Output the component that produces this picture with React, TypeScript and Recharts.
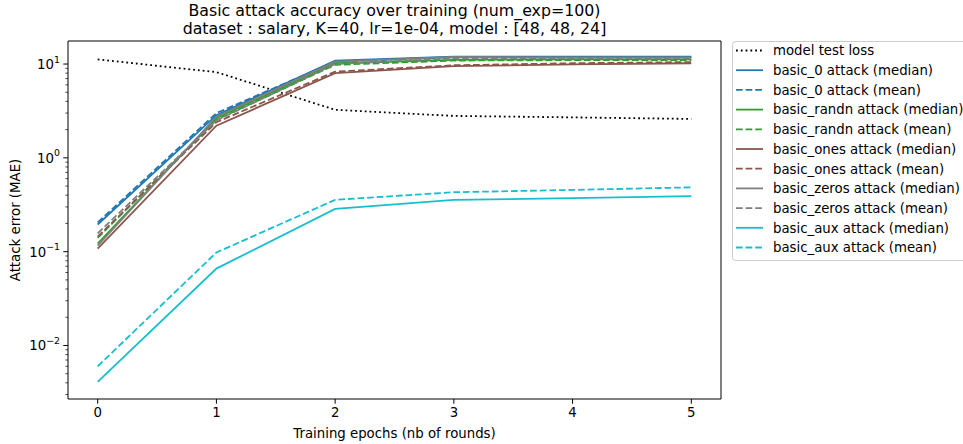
import { LineChart, Line, XAxis, YAxis, ReferenceArea } from 'recharts';

const epochs = [0, 1, 2, 3, 4, 5];
const modelTestLoss = [11.2, 8.2, 3.25, 2.8, 2.7, 2.6];
const basic0Median = [0.195, 2.85, 10.9, 12.0, 12.0, 12.0];
const basic0Mean = [0.205, 3.0, 10.6, 11.8, 11.8, 11.8];
const randnMedian = [0.122, 2.65, 10.2, 11.1, 11.2, 11.2];
const randnMean = [0.14, 2.55, 9.8, 10.9, 11.0, 11.0];
const onesMedian = [0.108, 2.2, 8.0, 9.5, 9.9, 10.2];
const onesMean = [0.145, 2.4, 8.3, 9.7, 10.2, 10.5];
const zerosMedian = [0.116, 2.75, 10.6, 11.9, 11.8, 11.8];
const zerosMean = [0.157, 2.5, 10.0, 11.5, 11.5, 11.5];
const auxMedian = [0.0041, 0.066, 0.286, 0.357, 0.372, 0.39];
const auxMean = [0.006, 0.098, 0.357, 0.43, 0.455, 0.485];

const majorTicks = [0.01, 0.1, 1, 10];
const minorTicks = [3, 4, 5, 6, 7, 8, 9].map((m) => m * 0.001)
  .concat([2, 3, 4, 5, 6, 7, 8, 9].map((m) => m * 0.01))
  .concat([2, 3, 4, 5, 6, 7, 8, 9].map((m) => m * 0.1))
  .concat([2, 3, 4, 5, 6, 7, 8, 9].map((m) => m * 1));

const FONT = 'DejaVu Sans, sans-serif';
const LABEL_SIZE = 13.3;
const TITLE_SIZE = 15.8;
const Y_DOMAIN = [0.00269, 17.6];
const X_DOMAIN = [-0.25, 5.25];

type Series = { key: string; name: string; values: number[]; color: string; dash?: string };

const series: Series[] = [
  { key: 'loss', name: 'model test loss', values: modelTestLoss, color: '#000000', dash: '1.8 3' },
  { key: 'b0med', name: 'basic_0 attack (median)', values: basic0Median, color: '#1f77b4' },
  { key: 'b0mean', name: 'basic_0 attack (mean)', values: basic0Mean, color: '#1f77b4', dash: '6.7 2.9' },
  { key: 'rnmed', name: 'basic_randn attack (median)', values: randnMedian, color: '#2ca02c' },
  { key: 'rnmean', name: 'basic_randn attack (mean)', values: randnMean, color: '#2ca02c', dash: '6.7 2.9' },
  { key: 'onmed', name: 'basic_ones attack (median)', values: onesMedian, color: '#8c564b' },
  { key: 'onmean', name: 'basic_ones attack (mean)', values: onesMean, color: '#8c564b', dash: '6.7 2.9' },
  { key: 'zmed', name: 'basic_zeros attack (median)', values: zerosMedian, color: '#7f7f7f' },
  { key: 'zmean', name: 'basic_zeros attack (mean)', values: zerosMean, color: '#7f7f7f', dash: '6.7 2.9' },
  { key: 'amed', name: 'basic_aux attack (median)', values: auxMedian, color: '#17becf' },
  { key: 'amean', name: 'basic_aux attack (mean)', values: auxMean, color: '#17becf', dash: '6.7 2.9' },
];

const data = epochs.map((e, i) => {
  const row: Record<string, number> = { epoch: e };
  series.forEach((s) => {
    row[s.key] = s.values[i];
  });
  return row;
});

// log ticks: decades get a 10^n label and a long tick, the rest a short tick
const YTick = (props: any) => {
  const { x, y, payload } = props;
  const v = payload.value as number;
  const exp = Math.round(Math.log10(v));
  const isMajor = Math.abs(Math.pow(10, exp) - v) < 1e-9;
  const len = isMajor ? 4.7 : 2.6;
  const expText = exp < 0 ? `\u2212${-exp}` : `${exp}`;
  return (
    <g>
      <line x1={x - len} x2={x} y1={y} y2={y} stroke="#000" strokeWidth={isMajor ? 1 : 0.7} />
      {isMajor && (
        <text x={x - 8} y={y + 5} textAnchor="end" fontFamily={FONT} fontSize={LABEL_SIZE} fill="#000">
          10
          <tspan dy={-6.5} fontSize={9.4}>{expText}</tspan>
        </text>
      )}
    </g>
  );
};

const XTick = (props: any) => {
  const { x, y, payload } = props;
  return (
    <g>
      <line x1={x} x2={x} y1={y} y2={y + 4.7} stroke="#000" strokeWidth={1} />
      <text x={x} y={y + 17.5} textAnchor="middle" fontFamily={FONT} fontSize={LABEL_SIZE} fill="#000">
        {payload.value}
      </text>
    </g>
  );
};

function LegendBox() {
  const rowH = 19.7;
  return (
    <svg width={963} height={444} style={{ position: 'absolute', left: 0, top: 0, pointerEvents: 'none' }}>
      <rect x={732.5} y={41.5} width={240} height={219} rx={3} fill="#ffffff" fillOpacity={0.8} stroke="#cccccc" />
      {series.map((s, i) => {
        const cy = 50.5 + i * rowH;
        return (
          <g key={s.key}>
            <line x1={736} x2={763} y1={cy} y2={cy} stroke={s.color} strokeWidth={1.8} strokeDasharray={s.dash} />
            <text x={773} y={cy + 4.8} fontFamily={FONT} fontSize={LABEL_SIZE} fill="#000">
              {s.name}
            </text>
          </g>
        );
      })}
    </svg>
  );
}

export default function App() {
  return (
    <div style={{ position: 'absolute', left: 0, top: 0, width: 963, height: 444, background: '#fff' }}>
      <LineChart
        width={963}
        height={444}
        data={data}
        margin={{ top: 41, right: 242, bottom: 0, left: 0 }}
      >
        <XAxis
          dataKey="epoch"
          type="number"
          domain={X_DOMAIN}
          ticks={epochs}
          allowDataOverflow
          height={45}
          axisLine={false}
          tickLine={false}
          tickSize={0}
          tickMargin={0}
          tick={<XTick />}
        />
        <YAxis
          scale="log"
          type="number"
          domain={Y_DOMAIN}
          ticks={[...majorTicks, ...minorTicks]}
          allowDataOverflow
          width={68}
          axisLine={false}
          tickLine={false}
          tickSize={0}
          tickMargin={0}
          tick={<YTick />}
          interval={0}
        />
        <ReferenceArea
          x1={X_DOMAIN[0]}
          x2={X_DOMAIN[1]}
          y1={Y_DOMAIN[0]}
          y2={Y_DOMAIN[1]}
          fill="none"
          stroke="#000"
          strokeWidth={1}
          ifOverflow="visible"
        />
        {series.map((s) => (
          <Line
            key={s.key}
            dataKey={s.key}
            stroke={s.color}
            strokeWidth={1.8}
            strokeDasharray={s.dash}
            dot={false}
            activeDot={false}
            isAnimationActive={false}
          />
        ))}
        <text x={394.5} y={16} textAnchor="middle" fontFamily={FONT} fontSize={TITLE_SIZE} fill="#000">
          Basic attack accuracy over training (num_exp=100)
        </text>
        <text x={394.5} y={34} textAnchor="middle" fontFamily={FONT} fontSize={TITLE_SIZE} fill="#000">
          dataset : salary, K=40, lr=1e-04, model : [48, 48, 24]
        </text>
        <text x={394.5} y={438} textAnchor="middle" fontFamily={FONT} fontSize={LABEL_SIZE} fill="#000">
          Training epochs (nb of rounds)
        </text>
        <text
          x={20}
          y={220}
          textAnchor="middle"
          fontFamily={FONT}
          fontSize={LABEL_SIZE}
          fill="#000"
          transform="rotate(-90 20 220)"
        >
          Attack error (MAE)
        </text>
      </LineChart>
      <LegendBox />
    </div>
  );
}
